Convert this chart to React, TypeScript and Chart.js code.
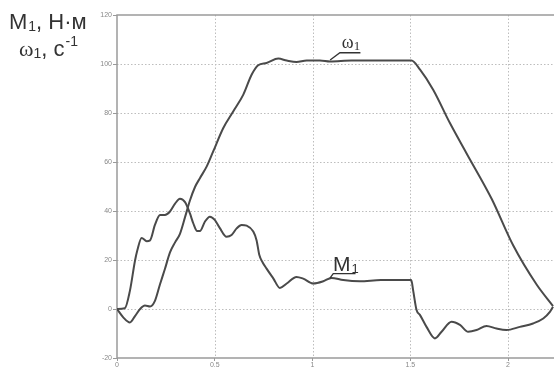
import React, { useEffect, useRef } from "react";
import { Chart, registerables } from "chart.js";

Chart.register(...registerables);

const m1X = [0, 0.04, 0.066, 0.092, 0.104, 0.126, 0.152, 0.169, 0.194, 0.22, 0.245, 0.271, 0.297, 0.322, 0.348, 0.373, 0.39, 0.41, 0.424, 0.45, 0.475, 0.5, 0.527, 0.56, 0.586, 0.612, 0.637, 0.663, 0.697, 0.714, 0.728, 0.745, 0.765, 0.8, 0.833, 0.868, 0.918, 0.952, 1.004, 1.055, 1.097, 1.157, 1.242, 1.35, 1.45, 1.505, 1.515, 1.532, 1.55, 1.583, 1.626, 1.66, 1.711, 1.754, 1.796, 1.839, 1.89, 1.941, 1.992, 2.06, 2.128, 2.18, 2.214, 2.23];
const m1Y = [0, 0.3, 7.4, 19.7, 24, 29, 27.7, 28, 34.3, 38.4, 38.4, 39.8, 43, 45, 43.6, 39, 35, 31.8, 31.8, 35.7, 37.7, 36.4, 32.9, 29.5, 30.2, 32.9, 34.3, 34, 31.6, 28, 22, 19, 16.5, 12.4, 8.6, 10.4, 13.1, 12.4, 10.4, 11.3, 12.7, 11.8, 11.3, 11.8, 11.8, 11.8, 7.4, -0.4, -2.5, -7.3, -12, -9.3, -5.2, -6.5, -9.3, -8.6, -6.9, -8, -8.6, -7.3, -5.9, -3.9, -1.2, 0.9];

const w1X = [0, 0.032, 0.066, 0.092, 0.118, 0.143, 0.169, 0.194, 0.22, 0.245, 0.271, 0.297, 0.322, 0.348, 0.373, 0.399, 0.424, 0.459, 0.492, 0.543, 0.595, 0.646, 0.689, 0.722, 0.765, 0.825, 0.868, 0.918, 0.97, 1.038, 1.09, 1.2, 1.35, 1.506, 1.55, 1.617, 1.702, 1.788, 1.916, 2.026, 2.146, 2.23];
const w1Y = [0, -3.4, -5.5, -2.9, 0, 1.4, 1, 3.3, 10.1, 16.3, 23.1, 27.2, 30.7, 37.5, 44.3, 49.8, 53.4, 58.2, 64.3, 73.8, 80.7, 87.5, 95.7, 99.5, 100.4, 102.2, 101.4, 100.8, 101.4, 101.4, 101, 101.4, 101.4, 101.4, 97.7, 89.5, 76, 63.5, 45, 26, 10, 1.2];

const xTicks = [0, 0.5, 1, 1.5, 2];
const yTicks = [-20, 0, 20, 40, 60, 80, 100, 120];

const LINE = "#4a4a4a";
const SANS = "'Liberation Sans', Arial, sans-serif";
const SERIF = "'Liberation Serif', 'Times New Roman', serif";

const decorPlugin = {
  id: "decor",
  beforeDatasetsDraw(chart: any) {
    const { ctx, chartArea } = chart;
    const xs = chart.scales.x;
    const ys = chart.scales.y;
    ctx.save();
    ctx.strokeStyle = "#bdbdbd";
    ctx.lineWidth = 1;
    ctx.setLineDash([1.5, 2]);
    xTicks.forEach((v) => {
      if (v === 0) return;
      const px = Math.round(xs.getPixelForValue(v)) + 0.5;
      ctx.beginPath();
      ctx.moveTo(px, chartArea.top);
      ctx.lineTo(px, chartArea.bottom);
      ctx.stroke();
    });
    yTicks.forEach((v) => {
      if (v === -20 || v === 120) return;
      const py = Math.round(ys.getPixelForValue(v)) + 0.5;
      ctx.beginPath();
      ctx.moveTo(chartArea.left, py);
      ctx.lineTo(chartArea.right, py);
      ctx.stroke();
    });
    ctx.setLineDash([]);
    ctx.strokeStyle = "#9a9a9a";
    ctx.lineWidth = 1.5;
    ctx.strokeRect(chartArea.left, chartArea.top, chartArea.right - chartArea.left + 2, chartArea.bottom - chartArea.top);
    ctx.restore();
  },
  afterDraw(chart: any) {
    const { ctx } = chart;
    const xs = chart.scales.x;
    const ys = chart.scales.y;
    ctx.save();
    // axis title
    ctx.fillStyle = "#333";
    ctx.textBaseline = "alphabetic";
    ctx.font = `22px ${SANS}`;
    ctx.fillText("M", 9, 29);
    let w = ctx.measureText("M").width;
    ctx.font = `14px ${SANS}`;
    ctx.fillText("1", 9 + w + 1, 31);
    let w2 = ctx.measureText("1").width + 1;
    ctx.font = `22px ${SANS}`;
    ctx.fillText(", Н·м", 9 + w + w2, 29);

    ctx.font = `22px ${SERIF}`;
    ctx.fillText("ω", 19, 56);
    w = ctx.measureText("ω").width;
    ctx.font = `14px ${SANS}`;
    ctx.fillText("1", 19 + w, 58);
    w2 = ctx.measureText("1").width;
    ctx.font = `22px ${SANS}`;
    ctx.fillText(", c", 19 + w + w2, 56);
    const w3 = ctx.measureText(", c").width;
    ctx.font = `14px ${SANS}`;
    ctx.fillText("-1", 19 + w + w2 + w3 + 1, 46);

    // ω1 annotation
    ctx.strokeStyle = "#333";
    ctx.lineWidth = 1.3;
    ctx.beginPath();
    ctx.moveTo(xs.getPixelForValue(1.09), ys.getPixelForValue(101.6));
    ctx.lineTo(xs.getPixelForValue(1.14), ys.getPixelForValue(104.6));
    ctx.lineTo(xs.getPixelForValue(1.245), ys.getPixelForValue(104.6));
    ctx.stroke();
    const wx = xs.getPixelForValue(1.15);
    const wy = ys.getPixelForValue(106.5);
    ctx.font = `18px ${SERIF}`;
    ctx.fillText("ω", wx, wy);
    const ww = ctx.measureText("ω").width;
    ctx.font = `13px ${SERIF}`;
    ctx.fillText("1", wx + ww, wy + 2);

    // M1 annotation
    ctx.beginPath();
    ctx.moveTo(xs.getPixelForValue(1.089), ys.getPixelForValue(12.6));
    ctx.lineTo(xs.getPixelForValue(1.106), ys.getPixelForValue(14.4));
    ctx.lineTo(xs.getPixelForValue(1.22), ys.getPixelForValue(14.4));
    ctx.stroke();
    const mx = xs.getPixelForValue(1.105);
    const my = ys.getPixelForValue(15.4);
    ctx.font = `21px ${SANS}`;
    ctx.fillText("M", mx, my);
    const mw = ctx.measureText("M").width;
    ctx.font = `13px ${SANS}`;
    ctx.fillText("1", mx + mw + 1, my + 2);
    ctx.restore();
  },
};

export default function App() {
  const ref = useRef<HTMLCanvasElement | null>(null);
  useEffect(() => {
    if (!ref.current) return;
    const chart = new Chart(ref.current, {
      type: "line",
      data: {
        datasets: [
          {
            label: "M1",
            data: m1X.map((x, i) => ({ x, y: m1Y[i] })),
            borderColor: LINE,
            borderWidth: 2,
            pointRadius: 0,
            cubicInterpolationMode: "monotone",
            fill: false,
          },
          {
            label: "ω1",
            data: w1X.map((x, i) => ({ x, y: w1Y[i] })),
            borderColor: LINE,
            borderWidth: 2,
            pointRadius: 0,
            cubicInterpolationMode: "monotone",
            fill: false,
          },
        ],
      },
      options: {
        responsive: false,
        animation: false,
        layout: { padding: { top: 15, right: 0, left: 0, bottom: 0 } },
        plugins: { legend: { display: false }, tooltip: { enabled: false } },
        scales: {
          x: {
            type: "linear",
            min: 0,
            max: 2.235,
            afterBuildTicks: (s: any) => {
              s.ticks = xTicks.map((v) => ({ value: v }));
            },
            afterFit: (s: any) => {
              s.height = 9;
            },
            grid: {
              drawOnChartArea: false,
              tickLength: 3,
              tickColor: "#999",
              drawTicks: true,
            },
            border: { display: false },
            ticks: {
              padding: 0,
              maxRotation: 0,
              autoSkip: false,
              color: "#888",
              callback: (v: any) => String(v),
              font: { size: 7, family: SANS },
            },
          },
          y: {
            type: "linear",
            min: -20,
            max: 120,
            afterBuildTicks: (s: any) => {
              s.ticks = yTicks.map((v) => ({ value: v }));
            },
            afterFit: (s: any) => {
              s.width = 117;
            },
            grid: {
              drawOnChartArea: false,
              tickLength: 4,
              tickColor: "#999",
            },
            border: { display: false },
            ticks: {
              padding: 1,
              color: "#888",
              callback: (v: any) => String(v),
              font: { size: 7, family: SANS },
            },
          },
        },
      },
      plugins: [decorPlugin],
    });
    return () => chart.destroy();
  }, []);
  return (
    <div style={{ position: "fixed", left: 0, top: 0, width: 554, height: 367, background: "#fff" }}>
      <canvas ref={ref} width={554} height={367} style={{ width: 554, height: 367, display: "block" }} />
    </div>
  );
}
